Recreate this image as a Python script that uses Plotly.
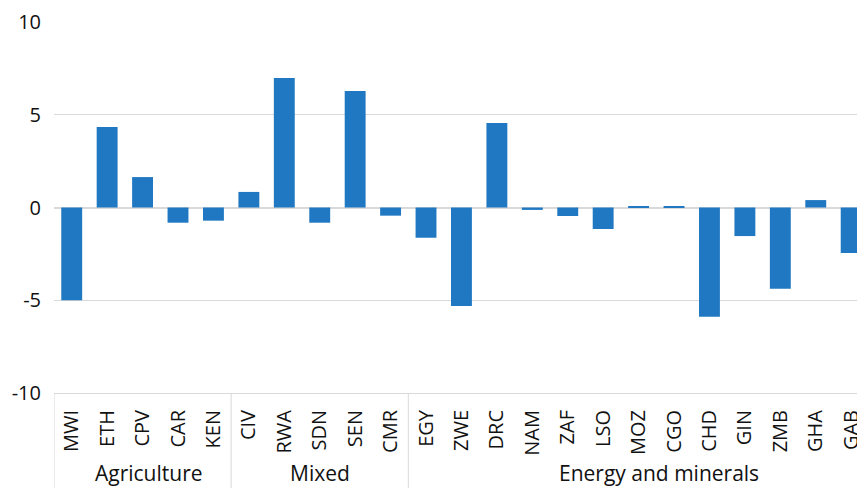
import plotly.graph_objects as go

countries = ["MWI", "ETH", "CPV", "CAR", "KEN",
             "CIV", "RWA", "SDN", "SEN", "CMR",
             "EGY", "ZWE", "DRC", "NAM", "ZAF", "LSO", "MOZ", "CGO", "CHD", "GIN", "ZMB", "GHA", "GAB"]
values = [-5.0, 4.34, 1.64, -0.82, -0.71,
          0.84, 6.98, -0.82, 6.28, -0.44,
          -1.63, -5.31, 4.55, -0.13, -0.46, -1.16, 0.08, 0.08, -5.89, -1.54, -4.38, 0.40, -2.45]
groups = ["Agriculture", "Mixed", "Energy and minerals"]
group_sizes = [5, 5, 13]
y_ticks = [-10, -5, 0, 5, 10]

FONT = "Open Sans"
TEXT = "#111111"
GRID = "#d9d9d9"

fig = go.Figure(go.Bar(
    x=list(range(len(countries))),
    y=values,
    marker=dict(color="#1f78c1", line=dict(width=0)),
))

shapes = []
annotations = []
start = 0
label_offsets = [0.17, 0.0, 0.57]
for g, n, off in zip(groups, group_sizes, label_offsets):
    shapes.append(dict(type="line", xref="x", yref="paper",
                       x0=start - 0.5, x1=start - 0.5, y0=0, y1=-0.3,
                       line=dict(color=GRID, width=1)))
    annotations.append(dict(text=g, xref="x", yref="paper",
                            x=start + (n - 1) / 2 + off, y=-0.215,
                            xanchor="center", yanchor="middle", showarrow=False,
                            font=dict(family=FONT, size=21, color=TEXT)))
    start += n

# page body has an 8px default margin; margins below compensate for it
fig.update_layout(
    width=857, height=480,
    margin=dict(l=46, r=0, t=14, b=95.3),
    paper_bgcolor="white", plot_bgcolor="white",
    showlegend=False,
    bargap=0.41,
    font=dict(family=FONT, size=20, color=TEXT),
    shapes=shapes,
    annotations=annotations,
    xaxis=dict(
        range=[-0.5, 22.39],
        tickmode="array",
        tickvals=list(range(len(countries))),
        ticktext=countries,
        tickangle=-90,
        ticks="",
        ticklabelstandoff=8,
        showgrid=False,
        zeroline=False,
        showline=True, linecolor=GRID, linewidth=1,
        tickfont=dict(family=FONT, size=20, color=TEXT),
    ),
    yaxis=dict(
        range=[-10, 10],
        tickmode="array",
        tickvals=y_ticks,
        ticktext=[str(v) for v in y_ticks],
        showgrid=True, gridcolor=GRID, gridwidth=1,
        zeroline=True, zerolinecolor=GRID, zerolinewidth=1.5,
        showline=False,
        ticks="",
        ticklabelstandoff=12,
        tickfont=dict(family=FONT, size=20, color=TEXT),
    ),
)

fig.write_html("out.html")
